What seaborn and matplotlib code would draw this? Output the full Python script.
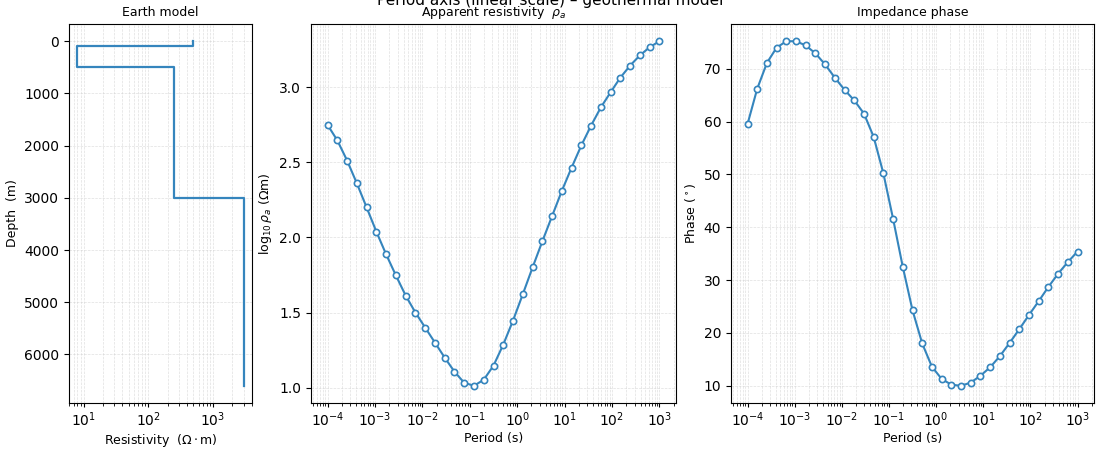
import numpy as np
import seaborn as sns
import matplotlib.pyplot as plt

# layered earth model
layer_top = [0, 100, 500, 3000]
layer_res = [500, 8, 250, 3000]
model_bottom = 6600

# log10 of period (s), 35 periods
log_period = [-4.000, -3.794, -3.588, -3.382, -3.176, -2.971, -2.765, -2.559, -2.353,
              -2.147, -1.941, -1.735, -1.529, -1.324, -1.118, -0.912, -0.706, -0.500,
              -0.294, -0.088, 0.118, 0.324, 0.529, 0.735, 0.941, 1.147, 1.353, 1.559,
              1.765, 1.971, 2.176, 2.382, 2.588, 2.794, 3.000]

log_rho_a = [2.748, 2.645, 2.511, 2.359, 2.199, 2.038, 1.887, 1.747, 1.613, 1.500,
             1.400, 1.300, 1.200, 1.107, 1.033, 1.013, 1.053, 1.147, 1.287, 1.447,
             1.622, 1.800, 1.973, 2.141, 2.309, 2.464, 2.612, 2.744, 2.865, 2.966,
             3.063, 3.143, 3.211, 3.265, 3.305]

phase = [59.5, 66.2, 71.1, 74.0, 75.2, 75.2, 74.4, 72.9, 70.8, 68.3,
         66.0, 64.0, 61.5, 57.1, 50.2, 41.6, 32.5, 24.3, 18.0, 13.6,
         11.3, 10.2, 10.0, 10.6, 11.9, 13.5, 15.6, 18.1, 20.7, 23.4,
         26.0, 28.7, 31.2, 33.4, 35.4]

periods = 10.0 ** np.array(log_period)
col = '#3585bd'

# step coordinates for the model profile
res_steps, depth_steps = [], []
bottoms = layer_top[1:] + [model_bottom]
for top, bot, r in zip(layer_top, bottoms, layer_res):
    res_steps += [r, r]
    depth_steps += [top, bot]

plt.rcParams['font.family'] = ['DejaVu Sans']

fig = plt.figure(figsize=(11, 4.5), dpi=100)
W, H = 1100, 450
def px_axes(x0, x1, y0, y1):
    return fig.add_axes([x0 / W, 1 - y1 / H, (x1 - x0) / W, (y1 - y0) / H])

ax0 = px_axes(69, 252, 24, 403)
ax1 = px_axes(311, 676, 24, 403)
ax2 = px_axes(731, 1094, 24, 403)

grid_kw = dict(which='both', ls='--', lw=0.5, color='0.8', alpha=0.6)

ax0.set_xscale('log')
sns.lineplot(x=res_steps, y=depth_steps, sort=False, estimator=None,
             color=col, lw=1.6, ax=ax0)
ax0.invert_yaxis()
ax0.set_yticks([0, 1000, 2000, 3000, 4000, 5000, 6000])
ax0.set_title('Earth model', fontsize=9)
ax0.set_xlabel(r'Resistivity  ($\Omega\cdot$m)', fontsize=9, labelpad=2)
ax0.set_ylabel('Depth  (m)', fontsize=9)
ax0.grid(**grid_kw)

mk = dict(marker='o', markersize=4.5, markerfacecolor='white',
          markeredgecolor=col, markeredgewidth=1.2, color=col, lw=1.5)

ax1.set_xscale('log')
sns.lineplot(x=periods, y=log_rho_a, ax=ax1, **mk)
ax1.set_title(r'Apparent resistivity  $\rho_a$', fontsize=9)
ax1.set_xlabel('Period (s)', fontsize=9, labelpad=2)
ax1.set_ylabel(r'log$_{10}\,\rho_a$ ($\Omega$m)', fontsize=9)
ax1.set_yticks([1.0, 1.5, 2.0, 2.5, 3.0])
ax1.grid(**grid_kw)

ax2.set_xscale('log')
sns.lineplot(x=periods, y=phase, ax=ax2, **mk)
ax2.set_title('Impedance phase', fontsize=9)
ax2.set_xlabel('Period (s)', fontsize=9, labelpad=2)
ax2.set_ylabel(r'Phase ($^\circ$)', fontsize=9)
ax2.grid(**grid_kw)

for ax in (ax0, ax1, ax2):
    ax.tick_params(labelsize=10)
    ax.tick_params(axis='x', which='major', length=3, pad=2.5)

fig.suptitle('Period axis (linear scale) – geothermal model', y=1.0, va='center', fontsize=11)

fig.savefig('out.png', dpi=100)
